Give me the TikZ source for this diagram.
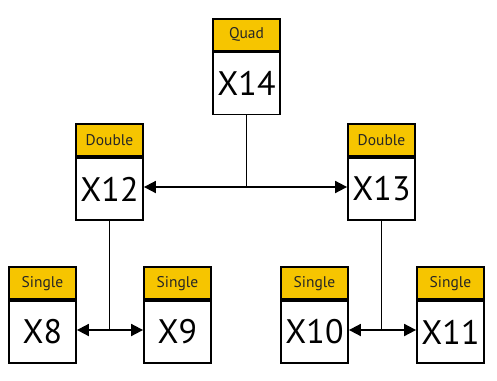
\documentclass[tikz,border=0pt]{standalone}
\usepackage{fontspec}
\setmainfont{PT Sans}
\usetikzlibrary{arrows.meta,positioning}
\definecolor{hdr}{RGB}{246,197,0}
\tikzset{
  body/.style={draw=black, line width=1.8pt, fill=white, minimum width=67pt, minimum height=62pt, inner sep=0pt, font=\fontsize{34}{38}\selectfont},
  hdrbox/.style={draw=black, line width=1.8pt, fill=hdr, minimum width=67pt, minimum height=32pt, inner sep=0pt, anchor=south, font=\fontsize{15.5}{17}\selectfont, text=black!85},
  conn/.style={line width=1.8pt},
  biarrow/.style={conn, {Triangle[length=12pt,width=12pt]}-{Triangle[length=12pt,width=12pt]}}
}
\begin{document}
\begin{tikzpicture}[x=1pt,y=-1pt]
\useasboundingbox (0,0) rectangle (497,380);
% bodies
\node[body] (x14) at (246.5,83.5) {X14};
\node[body] (x12) at (109.5,189) {X12};
\node[body] (x13) at (381.5,189) {X13};
\node[body] (x8)  at (42.5,332) {X8};
\node[body] (x9)  at (177.5,332) {X9};
\node[body] (x10) at (314.5,332) {X10};
\node[body] (x11) at (450.5,332) {X11};
% headers
\node[hdrbox] (h14) at (x14.north) {Quad};
\node[hdrbox] (h12) at (x12.north) {Double};
\node[hdrbox] (h13) at (x13.north) {Double};
\node[hdrbox] (h8)  at (x8.north) {Single};
\node[hdrbox] (h9)  at (x9.north) {Single};
\node[hdrbox] (h10) at (x10.north) {Single};
\node[hdrbox] (h11) at (x11.north) {Single};
% connectors
\coordinate (j14) at (x14.south |- 0,187);
\coordinate (j12) at (x12.south |- 0,330);
\coordinate (j13) at (x13.south |- 0,330);
\draw[conn] (x14.south) -- (j14);
\draw[biarrow] (x12.east |- j14) -- (x13.west |- j14);
\draw[conn] (x12.south) -- (j12);
\draw[biarrow] (x8.east |- j12) -- (x9.west |- j12);
\draw[conn] (x13.south) -- (j13);
\draw[biarrow] (x10.east |- j13) -- (x11.west |- j13);
\end{tikzpicture}
\end{document}
